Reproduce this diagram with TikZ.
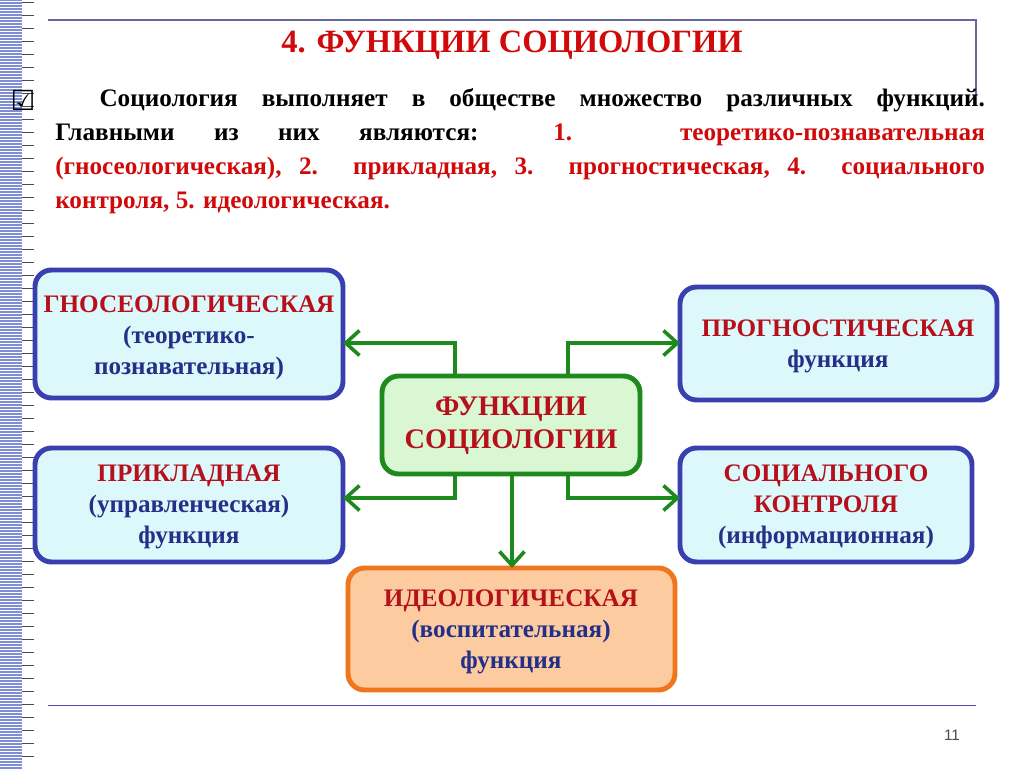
\documentclass[tikz,border=0pt]{standalone}
\usepackage{fontspec}
\setmainfont{Liberation Serif}
\newfontfamily\symfont{DejaVu Sans}
\newfontfamily\numfont{Liberation Sans}
\usepackage{xcolor}
\usetikzlibrary{arrows.meta}
\definecolor{boxblue}{HTML}{3A3FB0}
\definecolor{boxcyan}{HTML}{DDF8FB}
\definecolor{txtblue}{HTML}{243088}
\definecolor{redtxt}{HTML}{D00A0A}
\definecolor{boxred}{HTML}{B5101C}
\definecolor{arrgreen}{HTML}{1E8A1E}
\definecolor{ctrfill}{HTML}{D8F7D2}
\definecolor{orng}{HTML}{F0761E}
\definecolor{peach}{HTML}{FCCB9F}
\definecolor{stripe}{HTML}{7F8CD6}
\tikzset{
  funcbox/.style={draw=boxblue,line width=3.6pt,fill=boxcyan,rounded corners=12pt},
  ctrbox/.style={draw=arrgreen,line width=3.6pt,fill=ctrfill,rounded corners=12pt},
  ideobox/.style={draw=orng,line width=3.6pt,fill=peach,rounded corners=12pt},
  flow/.style={draw=arrgreen,line width=3pt,-{Straight Barb[length=10pt,width=18pt,line width=2.6pt]}},
  boxtext/.style={font=\bfseries\fontsize{18.2}{22.3}\selectfont,text=txtblue,align=center},
}
\begin{document}
\begin{tikzpicture}[x=0.0254cm,y=-0.0254cm]
\useasboundingbox (0,0) rectangle (1024,768);
\fill[white] (0,0) rectangle (1024,768);
% left ruler
\foreach \y in {0,3,...,768} \draw[stripe,line width=1.2pt] (0,\y) -- (22,\y);
\foreach \y in {2,15,...,768} \draw[black!70,line width=0.6pt] (22,\y) -- (34,\y);
% frame lines
\draw[gray!80!blue,line width=0.8pt] (48,20) -- (976,20) -- (976,95);
\draw[gray!60!blue,line width=0.6pt] (48,705) -- (976,705);
% title and text
\node[font=\bfseries\fontsize{23.5}{26}\selectfont,text=redtxt] (title) at (512,45) {4. ФУНКЦИИ СОЦИОЛОГИИ};
\node[font=\symfont\bfseries\fontsize{20}{20}\selectfont] (chk) at (23,100) {☑};
\node[text width=672pt,align=justify,anchor=north west,inner sep=0pt,
  font=\bfseries\fontsize{18.2}{24.6}\selectfont] (para) at (55,88)
  {\hspace*{32pt}Социология выполняет в обществе множество различных функций.\linebreak
   Главными из них являются: \textcolor{redtxt}{1. теоретико-познавательная\linebreak
   (гносеологическая), 2. прикладная, 3. прогностическая, 4. социального\linebreak
   контроля, 5. идеологическая.}};
% boxes
\draw[funcbox] (35,270) rectangle (343,398);
\node[boxtext] (gno) at (189,338) {\textcolor{boxred}{ГНОСЕОЛОГИЧЕСКАЯ}\\(теоретико-\\познавательная)};
\draw[funcbox] (680,287) rectangle (997,400);
\node[boxtext] (prog) at (838,346) {\textcolor{boxred}{ПРОГНОСТИЧЕСКАЯ}\\функция};
\draw[funcbox] (35,448) rectangle (343,562);
\node[boxtext] (prik) at (189,507) {\textcolor{boxred}{ПРИКЛАДНАЯ}\\(управленческая)\\функция};
\draw[funcbox] (680,448) rectangle (972,562);
\node[boxtext] (soc) at (826,507) {\textcolor{boxred}{СОЦИАЛЬНОГО}\\\textcolor{boxred}{КОНТРОЛЯ}\\(информационная)};
\draw[ideobox] (348,568) rectangle (675,690);
\node[boxtext] (ideo) at (511,632) {\textcolor{boxred}{ИДЕОЛОГИЧЕСКАЯ}\\(воспитательная)\\функция};
\draw[ctrbox] (382,376) rectangle (640,474);
\node[font=\bfseries\fontsize{20.5}{24}\selectfont,text=boxred,align=center] (ctr) at (511,426) {ФУНКЦИИ\\СОЦИОЛОГИИ};
% connectors
\coordinate (ctl) at (455,376); \coordinate (ctr2) at (568,376);
\coordinate (cbl) at (455,474); \coordinate (cbr) at (568,474);
\coordinate (cbm) at (512,474);
\coordinate (gnoR) at (343,343); \coordinate (progL) at (680,343);
\coordinate (prikR) at (343,498); \coordinate (socL) at (680,498);
\coordinate (ideoT) at (512,568);
\draw[flow] (ctl) |- (gnoR);
\draw[flow] (ctr2) |- (progL);
\draw[flow] (cbl) |- (prikR);
\draw[flow] (cbr) |- (socL);
\draw[flow] (cbm) -- (ideoT);
\node[font=\numfont\fontsize{11}{11}\selectfont,text=black!70] (pg) at (952,735) {11};
\end{tikzpicture}
\end{document}
